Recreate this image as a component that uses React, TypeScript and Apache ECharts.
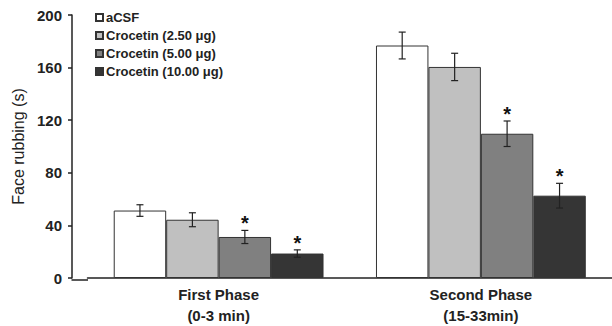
import React, { useEffect, useRef } from "react";
import * as echarts from "echarts";

const categories = ["First Phase\n(0-3 min)", "Second Phase\n(15-33min)"];
const seriesNames = ["aCSF", "Crocetin (2.50 μg)", "Crocetin (5.00 μg)", "Crocetin (10.00 μg)"];
const aCSF = [51.3, 176.8];
const croc250 = [44.3, 160.5];
const croc500 = [31.2, 109.7];
const croc1000 = [18.6, 62.6];
const errACSF = [4.4, 10.2];
const errCroc250 = [5.3, 10.4];
const errCroc500 = [5.0, 9.7];
const errCroc1000 = [2.8, 9.4];
const sigACSF = [false, false];
const sigCroc250 = [false, false];
const sigCroc500 = [true, true];
const sigCroc1000 = [true, true];
const yTicks = [0, 40, 80, 120, 160, 200];

const colors = ["#ffffff", "#c0c0c0", "#808080", "#353535"];
const FONT = "Liberation Sans, Arial, sans-serif";

export default function App() {
  const ref = useRef<HTMLDivElement>(null);
  useEffect(() => {
    if (!ref.current) return;
    const chart = echarts.init(ref.current, null, { renderer: "svg" });
    const values = [aCSF, croc250, croc500, croc1000];
    const errs = [errACSF, errCroc250, errCroc500, errCroc1000];
    const sigs = [sigACSF, sigCroc250, sigCroc500, sigCroc1000];
    const nSeries = values.length;
    const gapFrac = 0.2;

    const errData: any[] = [];
    values.forEach((vals, s) => {
      vals.forEach((v, c) => {
        errData.push([c, v - errs[s][c], v + errs[s][c], s, sigs[s][c] ? 1 : 0]);
      });
    });

    const bars = values.map((vals, s) => ({
      name: seriesNames[s],
      type: "bar",
      data: vals,
      barGap: "0%",
      barCategoryGap: gapFrac * 100 + "%",
      itemStyle: { color: colors[s], borderColor: "#333", borderWidth: 1 },
    }));

    chart.setOption({
      animation: false,
      textStyle: { fontFamily: FONT },
      grid: { left: 87.5, right: -5.5, top: 15, bottom: 46 },
      legend: {
        orient: "vertical",
        left: 90,
        top: 6,
        itemWidth: 7,
        itemHeight: 7,
        itemGap: 5,
        icon: "rect",
        data: seriesNames,
        textStyle: { fontSize: 13, fontWeight: "bold", color: "#222", padding: [0, 0, 0, -2] },
      },
      xAxis: {
        type: "category",
        data: categories,
        axisLine: { lineStyle: { color: "#222", width: 1.5 } },
        axisTick: { show: false },
        axisLabel: { fontSize: 15, fontWeight: "bold", color: "#222", lineHeight: 21, margin: 6 },
      },
      yAxis: {
        type: "value",
        min: 0,
        max: 200,
        interval: 40,
        offset: 15.5,
        name: "Face rubbing (s)",
        nameLocation: "middle",
        nameGap: 46,
        nameTextStyle: { fontSize: 16, color: "#222" },
        axisLine: { show: true, lineStyle: { color: "#222", width: 1.5 } },
        axisTick: { show: true, length: 4, lineStyle: { color: "#222", width: 1.5 } },
        axisLabel: {
          fontSize: 15,
          fontWeight: "bold",
          color: "#222",
          margin: 10,
          formatter: (v: number) => (yTicks.includes(v) ? String(v) : ""),
        },
        splitLine: { show: false },
      },
      graphic: [
        {
          type: "line",
          shape: { x1: 71.5, y1: 280, x2: 88, y2: 280 },
          style: { stroke: "#222", lineWidth: 1.5 },
        },
      ],
      series: [
        ...bars,
        {
          type: "custom",
          z: 5,
          data: errData,
          encode: { x: 0, y: [1, 2] },
          renderItem: (params: any, api: any) => {
            const c = api.value(0);
            const lo = api.value(1);
            const hi = api.value(2);
            const s = api.value(3);
            const sig = api.value(4);
            const band = api.size([1, 0])[0];
            const bw = (band * (1 - gapFrac)) / nSeries;
            const pLo = api.coord([c, lo]);
            const pHi = api.coord([c, hi]);
            const x = pLo[0] + (s - (nSeries - 1) / 2) * bw;
            const cap = 3.5;
            const st = { stroke: "#222", lineWidth: 1.2 };
            const children: any[] = [
              { type: "line", shape: { x1: x, y1: pLo[1], x2: x, y2: pHi[1] }, style: st },
              { type: "line", shape: { x1: x - cap, y1: pLo[1], x2: x + cap, y2: pLo[1] }, style: st },
              { type: "line", shape: { x1: x - cap, y1: pHi[1], x2: x + cap, y2: pHi[1] }, style: st },
            ];
            if (sig) {
              children.push({
                type: "text",
                x: x,
                y: pHi[1] + 3,
                style: {
                  text: "*",
                  fontSize: 20,
                  fontWeight: "bold",
                  fill: "#111",
                  align: "center",
                  verticalAlign: "bottom",
                  fontFamily: FONT,
                },
              });
            }
            return { type: "group", children };
          },
        },
      ],
    });
    return () => chart.dispose();
  }, []);
  return (
    <div
      ref={ref}
      style={{ position: "fixed", left: 0, top: 0, width: 612, height: 326, background: "#fff" }}
    />
  );
}
